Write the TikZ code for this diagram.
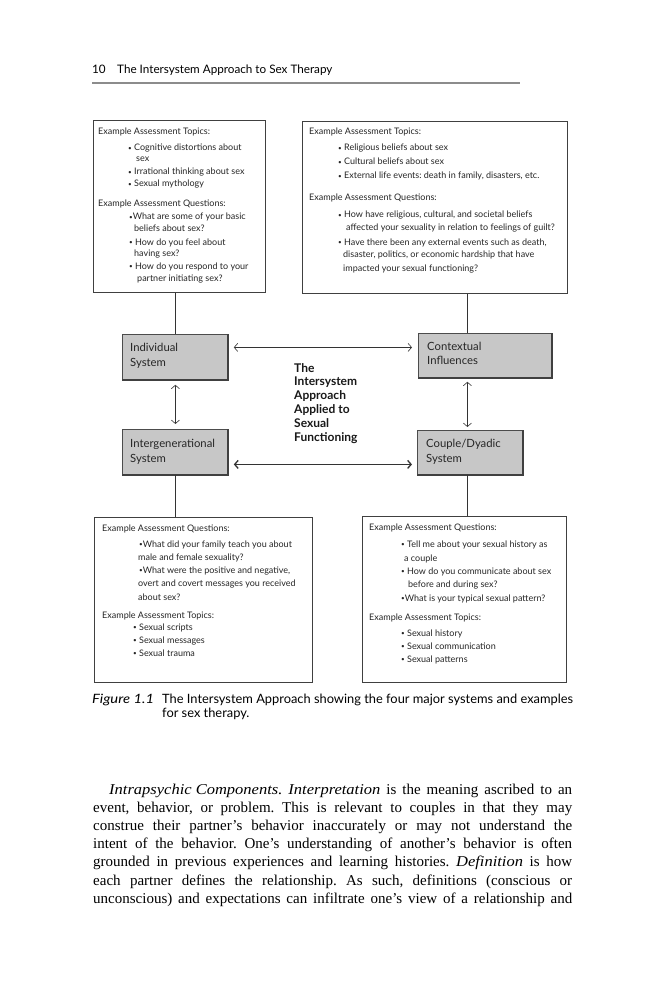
\documentclass[tikz,border=0pt]{standalone}
\usepackage{graphicx}
\usepackage{fontspec}
\setmainfont{Lato}
\newfontfamily\serifpara{Liberation Serif}
\newcommand\pit[1]{\scalebox{1.1}[1]{\itshape #1}}
\usetikzlibrary{arrows.meta,calc}
\newcommand\myline[4]{\node[tx] (#1) at (#2,#3) {#4};}
\newcommand\bul{\raisebox{0.12ex}{\scalebox{0.7}{•}}}
\frenchspacing
\tikzset{
  tx/.style={anchor=base west, inner sep=0pt, font=\fontsize{9}{11}\selectfont, text=black!85},
  syslab/.style={anchor=base west, inner sep=0pt, font=\fontsize{11.3}{13}\selectfont, text=black!85},
  ctr/.style={anchor=base west, inner sep=0pt, font=\bfseries\fontsize{12}{14}\selectfont, text=black!90},
  infobox/.style={draw=black!75, line width=0.9pt, anchor=north west, inner sep=0pt},
  sysbox/.style={draw=black!70, line width=0.8pt, fill=black!22, anchor=north west, inner sep=0pt},
  shadowedge/.style={draw=black!75, line width=1.4pt},
  conn/.style={draw=black!80, line width=0.8pt},
  arr/.style={draw=black!80, line width=0.6pt, {Straight Barb[length=3.5pt,width=8pt]}-{Straight Barb[length=3.5pt,width=8pt]}},
  para/.style={anchor=base west, inner sep=0pt, font=\serifpara\fontsize{15}{18}\selectfont}
}
\begin{document}
\begin{tikzpicture}[x=1pt,y=-1pt]
\useasboundingbox[fill=white] (0,0) rectangle (666,1000);
% header
\node[anchor=base west, inner sep=0pt, font=\fontsize{11.7}{13}\selectfont] (pg) at (92,74) {10};
\node[anchor=base west, inner sep=0pt, font=\fontsize{11.7}{13}\selectfont] (hd) at (117,74) {The Intersystem Approach to Sex Therapy};
\coordinate (rl) at (92,83);
\coordinate (rr) at (520,83);
\draw[black!45, line width=1.6pt] (rl) -- (rr);
% boxes
\node[infobox, minimum width=172pt, minimum height=172pt] (TL) at (93,120) {};
\node[infobox, minimum width=265pt, minimum height=172pt] (TR) at (302,121) {};
\node[infobox, minimum width=218pt, minimum height=165pt] (BL) at (94,517) {};
\node[infobox, minimum width=204pt, minimum height=166pt] (BR) at (362,516) {};
\node[sysbox, minimum width=105pt, minimum height=45pt] (Ind) at (122,334) {};
\node[sysbox, minimum width=133pt, minimum height=44pt] (Ctx) at (418,333) {};
\node[sysbox, minimum width=105pt, minimum height=45pt] (Int) at (122,429) {};
\node[sysbox, minimum width=105pt, minimum height=44pt] (Cpl) at (417,430) {};
\foreach \b in {Ind,Ctx,Int,Cpl}
  \draw[shadowedge] (\b.south west) -- (\b.south east) -- (\b.north east);
% connectors
\draw[conn] (Ind.north |- TL.south) -- (Ind.north);
\draw[conn] ($(Ctx.north west)+(49,0)$) coordinate (c1) -- (c1 |- TR.south);
\draw[conn] (Int.south) -- (Int.south |- BL.north);
\draw[conn] ($(Cpl.south)+(-2.5,0)$) coordinate (c2) -- (c2 |- BR.north);
% arrows
\draw[arr] ($(Ind.east)+(6,-9.5)$) -- ($(Ctx.west)+(-6,-8)$);
\draw[arr, line width=1.3pt] ($(Int.east)+(6,12.5)$) -- ($(Cpl.west)+(-5,12)$);
\draw[arr] ($(Ind.south)+(0.5,5)$) -- ($(Int.north)+(0.5,-5)$);
\draw[arr] ($(Ctx.south)+(-17.5,4)$) -- ($(Cpl.north)+(-2.5,-3)$);
% system labels
\node[syslab] (l1) at (130,351) {Individual};
\node[syslab] (l2) at (130,366) {System};
\node[syslab] (l3) at (427,350) {Contextual};
\node[syslab] (l4) at (427,364) {Influences};
\node[syslab] (l5) at (130,447) {Intergenerational};
\node[syslab] (l6) at (130,462) {System};
\node[syslab] (l7) at (426,447) {Couple/Dyadic};
\node[syslab] (l8) at (426,462) {System};
% center
\node[ctr] (m1) at (294,372) {The};
\node[ctr] (m2) at (294,385.8) {Intersystem};
\node[ctr] (m3) at (294,399.6) {Approach};
\node[ctr] (m4) at (294,413.4) {Applied to};
\node[ctr] (m5) at (294,427.2) {Sexual};
\node[ctr] (m6) at (294,441) {Functioning};
% top-left text
\myline{a1}{98}{135}{Example Assessment Topics:}
\myline{a2}{128}{151}{\bul\ Cognitive distortions about}
\myline{a3}{136}{162}{sex}
\myline{a4}{128}{175}{\bul\ Irrational thinking about sex}
\myline{a5}{128}{187}{\bul\ Sexual mythology}
\myline{a6}{98}{207}{Example Assessment Questions:}
\myline{a7}{129}{220}{\bul What are some of your basic}
\myline{a8}{134}{232}{beliefs about sex?}
\myline{a9}{129}{245}{\bul\ How do you feel about}
\myline{a10}{134}{256}{having sex?}
\myline{a11}{129}{269}{\bul\ How do you respond to your}
\myline{a12}{137}{281}{partner initiating sex?}
% top-right text
\myline{b1}{309}{135}{Example Assessment Topics:}
\myline{b2}{338}{151}{\bul\ Religious beliefs about sex}
\myline{b3}{338}{165}{\bul\ Cultural beliefs about sex}
\myline{b4}{338}{179}{\bul\ External life events: death in family, disasters, etc.}
\myline{b5}{309}{201}{Example Assessment Questions:}
\myline{b6}{338}{218}{\bul\ How have religious, cultural, and societal beliefs}
\myline{b7}{346}{231}{affected your sexuality in relation to feelings of guilt?}
\myline{b8}{338}{245}{\bul\ Have there been any external events such as death,}
\myline{b9}{343}{258}{disaster, politics, or economic hardship that have}
\myline{b10}{343}{271}{impacted your sexual functioning?}
% bottom-left text
\myline{c1t}{102}{531}{Example Assessment Questions:}
\myline{c2t}{139}{547}{\bul What did your family teach you about}
\myline{c3t}{138}{560}{male and female sexuality?}
\myline{c4t}{139}{573}{\bul What were the positive and negative,}
\myline{c5t}{138}{586}{overt and covert messages you received}
\myline{c6t}{138}{600}{about sex?}
\myline{c7t}{102}{618}{Example Assessment Topics:}
\myline{c8t}{133}{630}{\bul\ Sexual scripts}
\myline{c9t}{133}{643}{\bul\ Sexual messages}
\myline{c10t}{133}{656}{\bul\ Sexual trauma}
% bottom-right text
\myline{d1}{369}{530}{Example Assessment Questions:}
\myline{d2}{401}{547}{\bul\ Tell me about your sexual history as}
\myline{d3}{404}{561}{a couple}
\myline{d4}{401}{574}{\bul\ How do you communicate about sex}
\myline{d5}{408}{587}{before and during sex?}
\myline{d6}{401}{601}{\bul What is your typical sexual pattern?}
\myline{d7}{369}{620}{Example Assessment Topics:}
\myline{d8}{401}{636}{\bul\ Sexual history}
\myline{d9}{401}{649}{\bul\ Sexual communication}
\myline{d10}{401}{662}{\bul\ Sexual patterns}
% caption
\node[anchor=base west, inner sep=0pt, font=\itshape\fontsize{12.85}{14}\selectfont] (cap0) at (92,703) {\scalebox{1.15}[1]{Figure 1.1}};
\node[anchor=base west, inner sep=0pt, font=\fontsize{12.85}{14}\selectfont] (cap1) at (162,703) {The Intersystem Approach showing the four major systems and examples};
\node[anchor=base west, inner sep=0pt, font=\fontsize{12.85}{14}\selectfont] (cap2) at (162,717) {for sex therapy.};
% paragraph
\node[para] (p1) at (109,794) {\makebox[463pt][s]{\pit{Intrapsychic Components.} \pit{Interpretation} is the meaning ascribed to an}};
\node[para] (p2) at (93,812.2) {\makebox[479pt][s]{event, behavior, or problem. This is relevant to couples in that they may}};
\node[para] (p3) at (93,830.4) {\makebox[479pt][s]{construe their partner’s behavior inaccurately or may not understand the}};
\node[para] (p4) at (93,848.6) {\makebox[479pt][s]{intent of the behavior. One’s understanding of another’s behavior is often}};
\node[para] (p5) at (93,866.8) {\makebox[479pt][s]{grounded in previous experiences and learning histories. \pit{Definition} is how}};
\node[para] (p6) at (93,885) {\makebox[479pt][s]{each partner defines the relationship. As such, definitions (conscious or}};
\node[para] (p7) at (93,903.2) {\makebox[479pt][s]{unconscious) and expectations can infiltrate one’s view of a relationship and}};
\end{tikzpicture}
\end{document}
